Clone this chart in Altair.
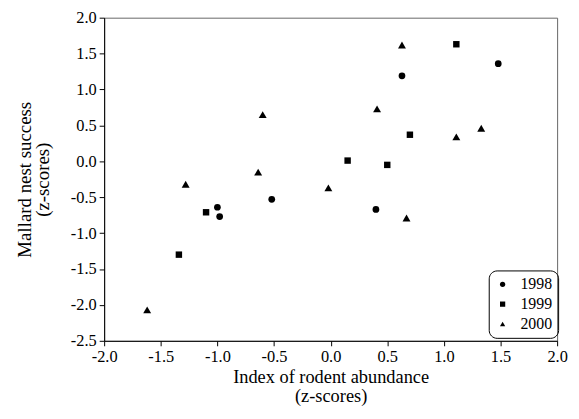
import altair as alt
import pandas as pd

# 1998 (circles)
x1998 = [0.63, 1.48, 0.40, -0.52, -1.00, -0.98]
y1998 = [1.19, 1.36, -0.67, -0.53, -0.64, -0.77]
# 1999 (squares)
x1999 = [1.11, 0.70, 0.15, 0.50, -1.10, -1.34]
y1999 = [1.63, 0.37, 0.01, -0.05, -0.71, -1.30]
# 2000 (triangles)
x2000 = [0.63, 0.41, 1.33, 1.11, -0.02, 0.67, -0.60, -0.64, -1.28, -1.62]
y2000 = [1.62, 0.73, 0.46, 0.34, -0.37, -0.79, 0.65, -0.15, -0.32, -2.07]

years = ["1998", "1999", "2000"]
shapes = ["circle", "square", "triangle-up"]
x_ticks = [-2.0, -1.5, -1.0, -0.5, 0.0, 0.5, 1.0, 1.5, 2.0]
y_ticks = [2.0, 1.5, 1.0, 0.5, 0.0, -0.5, -1.0, -1.5, -2.0, -2.5]

MARKER_SIZE = {"1998": 46, "1999": 42, "2000": 64}

rows = []
for yr, xs, ys in [("1998", x1998, y1998), ("1999", x1999, y1999), ("2000", x2000, y2000)]:
    for a, b in zip(xs, ys):
        rows.append({"x": a, "y": b, "year": yr})
df = pd.DataFrame(rows)

FONT = "Liberation Serif"
LBL = "(datum.value < 0 ? '-' : '') + format(abs(datum.value), '.1f')"

base = alt.Chart(df).encode(
    x=alt.X("x:Q", scale=alt.Scale(domain=[-2, 2], nice=False),
            axis=alt.Axis(values=x_ticks, labelExpr=LBL, title=["Index of rodent abundance", "(z-scores)"],
                          grid=False, tickSize=5, labelPadding=3, titlePadding=3,
                          titleLineHeight=18.5, titleFontSize=18.5)),
    y=alt.Y("y:Q", scale=alt.Scale(domain=[-2.5, 2], nice=False, zero=False),
            axis=alt.Axis(values=y_ticks, labelExpr=LBL, title=["Mallard nest success", "(z-scores)"],
                          grid=False, tickSize=5, labelPadding=3, titlePadding=18,
                          titleLineHeight=18, titleFontSize=19)),
    shape=alt.Shape("year:N", scale=alt.Scale(domain=years, range=shapes),
                    legend=alt.Legend(title=None, orient="none", legendX=388, legendY=255,
                                      strokeColor="black", cornerRadius=8, padding=6,
                                      symbolFillColor="black", symbolStrokeColor="black",
                                      symbolSize=28, labelFontSize=16, labelFont=FONT,
                                      labelOffset=10, rowPadding=4, symbolOffset=0)),
)

layers = [
    base.transform_filter(alt.datum.year == yr).mark_point(
        filled=True, color="black", opacity=1, size=MARKER_SIZE[yr])
    for yr in years
]

chart = alt.layer(*layers).properties(
    width=457, height=326,
    autosize=alt.AutoSizeParams(type="none"),
    padding={"left": 97, "top": 8, "right": 14, "bottom": 65},
).configure_view(
    stroke="#666", strokeWidth=1
).configure_axis(
    labelFont=FONT, titleFont=FONT, labelFontSize=16.5,
    labelColor="black", titleColor="black", titleFontWeight="normal",
    domainColor="black", tickColor="black", labelFlush=False,
)

chart.save("out.html", embed_options={"renderer": "svg", "actions": False})
